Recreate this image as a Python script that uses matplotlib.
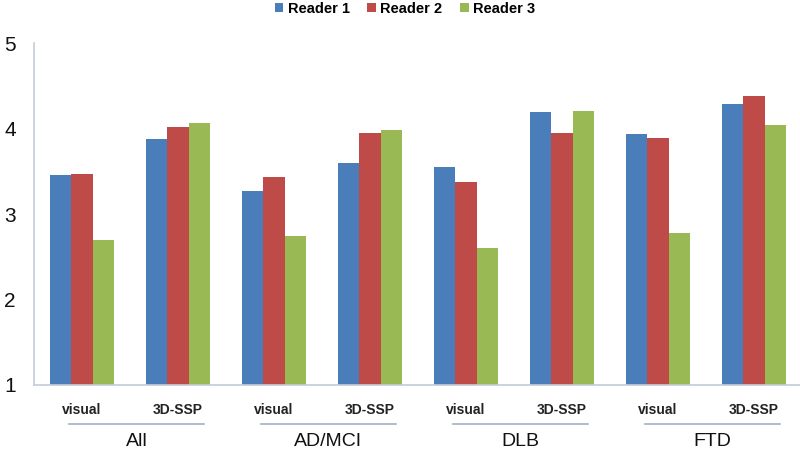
import matplotlib
matplotlib.use("Agg")
import matplotlib.pyplot as plt
import numpy as np
from matplotlib.lines import Line2D
from matplotlib.patches import Patch

plt.rcParams['font.family'] = ['Liberation Sans', 'DejaVu Sans']

groups = ["All", "AD/MCI", "DLB", "FTD"]
methods = ["visual", "3D-SSP"]
series_names = ["Reader 1", "Reader 2", "Reader 3"]
reader1 = [3.46, 3.88, 3.27, 3.60, 3.55, 4.19, 3.94, 4.29]
reader2 = [3.47, 4.02, 3.43, 3.95, 3.37, 3.95, 3.89, 4.38]
reader3 = [2.70, 4.06, 2.74, 3.98, 2.60, 4.20, 2.78, 4.04]
colors = ["#4A7EBB", "#BE4B48", "#98B954"]
yticks = [1, 2, 3, 4, 5]

fig = plt.figure(figsize=(8.0, 4.54), dpi=100)
W, H = 800, 454
# axes: x from 34 to 802 px, y from 43 (5) to 385 (1)
ax = fig.add_axes([34 / W, 1 - 385 / H, 768 / W, (385 - 43) / H])

n = len(reader1)
x = np.arange(n)
bw = 0.22
for i, (vals, c) in enumerate(zip([reader1, reader2, reader3], colors)):
    ax.bar(x + (i - 1) * bw, np.array(vals) - 1, bottom=1, width=bw, color=c,
           edgecolor='none', label=series_names[i])

ax.set_xlim(-0.5, n - 0.5)
ax.set_ylim(1, 5)
ax.set_yticks(yticks)
ax.set_yticklabels([str(t) for t in yticks], fontsize=15, color='#111111')
ax.tick_params(axis='y', length=0, pad=13)
ax.tick_params(axis='x', length=0)
ax.set_xticks([])
for s in ['top', 'right']:
    ax.spines[s].set_visible(False)
ax.spines['left'].set_color('#C4CCD8')
ax.spines['bottom'].set_color('#C4CCD8')
ax.spines['left'].set_linewidth(1.2)
ax.spines['bottom'].set_linewidth(1.2)

# method labels
for k in range(n):
    fig.text((34 + 96 * k + 48) / W, 1 - 410 / H, methods[k % 2], ha='center', va='center',
             fontsize=10, fontweight='bold', color='#222222')
# group underline and labels
for g, name in enumerate(groups):
    xc1 = 34 + 96 * (2 * g) + 48
    xc2 = 34 + 96 * (2 * g + 1) + 48
    fig.add_artist(Line2D([(xc1 - 13) / W, (xc2 + 26) / W], [1 - 424 / H, 1 - 424 / H],
                          color='#9FB0C8', lw=1.2, transform=fig.transFigure))
    fig.text(((xc1 - 13) + (xc2 + 26)) / 2 / W, 1 - 441 / H, name, ha='center', va='center',
             fontsize=14, color='#111111')

handles = [Patch(facecolor=c, edgecolor='none') for c in colors]
fig.legend(handles, series_names, loc='center', bbox_to_anchor=(405 / W, 1 - 9 / H), ncol=3,
           frameon=False, prop={'weight': 'bold', 'size': 10.5}, handlelength=0.6,
           handleheight=0.6, handletextpad=0.3, columnspacing=1.2)

fig.savefig("out.png", dpi=100)
